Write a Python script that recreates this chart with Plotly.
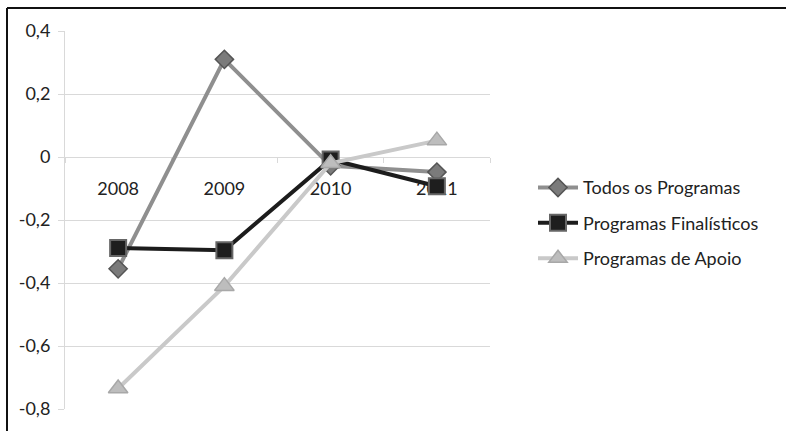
import plotly.graph_objects as go

# Data
years = ["2008", "2009", "2010", "2011"]
todos = [-0.355, 0.31, -0.028, -0.048]
finalisticos = [-0.289, -0.296, -0.008, -0.093]
apoio = [-0.735, -0.41, -0.02, 0.052]

y_tick_vals = [0.4, 0.2, 0, -0.2, -0.4, -0.6, -0.8]
y_tick_text = ["0,4", "0,2", "0", "-0,2", "-0,4", "-0,6", "-0,8"]

W, H = 786, 431
ML, MR, MT, MB = 65, 296, 31, 20
PW, PH = W - ML - MR, H - MT - MB
Y_MIN, Y_MAX = -0.8, 0.4

FONT = "Lato, Calibri, Carlito, sans-serif"
GRID = "#d9d9d9"
FS = 18


def px_x(px):
    return (px - ML) / PW


def px_y(py):
    return (H - MB - py) / PH


series = [
    ("Todos os Programas", todos, "#8f8f8f", 4,
     dict(symbol="diamond", size=14, color="#7b7b7b", line=dict(color="#555555", width=1.5))),
    ("Programas Finalísticos", finalisticos, "#1c1c1c", 4,
     dict(symbol="square", size=16, color="#1e1e1e", line=dict(color="#666666", width=2))),
    ("Programas de Apoio", apoio, "#c9c9c9", 4,
     dict(symbol="triangle-up", size=17, color="#bdbdbd", line=dict(color="#a8a8a8", width=1.5))),
]

fig = go.Figure()
for i, (name, vals, lc, lw, mk) in enumerate(series):
    fig.add_trace(go.Scatter(
        x=years, y=vals, name=name, mode="lines+markers",
        line=dict(color=lc, width=lw), marker=mk,
        legendgroup=f"g{i}",
    ))

zero_pos = (0 - Y_MIN) / (Y_MAX - Y_MIN)

fig.update_layout(
    width=W, height=H,
    margin=dict(l=ML, r=MR, t=MT, b=MB, pad=0),
    paper_bgcolor="white", plot_bgcolor="white",
    font=dict(family=FONT, size=FS, color="#222222"),
    showlegend=True,
    legend=dict(
        x=px_x(533), y=px_y(170), xanchor="left", yanchor="top",
        font=dict(family=FONT, size=FS, color="#222222"),
        tracegroupgap=9, itemwidth=40,
        bgcolor="rgba(0,0,0,0)",
    ),
    xaxis=dict(
        type="category", range=[-0.5, 3.5],
        anchor="free", position=zero_pos,
        showline=True, linecolor=GRID, linewidth=1,
        ticks="outside", ticklen=5, tickcolor=GRID, tickson="boundaries",
        showgrid=False, zeroline=False,
        tickfont=dict(family=FONT, size=FS, color="#222222"),
        ticklabelstandoff=15,
        layer="below traces",
        fixedrange=True,
    ),
    yaxis=dict(
        range=[Y_MIN, Y_MAX],
        tickvals=y_tick_vals, ticktext=y_tick_text,
        showline=True, linecolor=GRID, linewidth=1,
        ticks="outside", ticklen=6, tickcolor=GRID,
        showgrid=True, gridcolor=GRID, gridwidth=1,
        zeroline=False,
        tickfont=dict(family=FONT, size=FS, color="#222222"),
        ticklabelstandoff=4,
        layer="below traces",
        fixedrange=True,
    ),
    shapes=[
        dict(type="line", xref="paper", yref="paper",
             x0=px_x(7), x1=px_x(7), y0=px_y(H + 2), y1=px_y(8),
             line=dict(color="#111111", width=2)),
        dict(type="line", xref="paper", yref="paper",
             x0=px_x(7), x1=px_x(W + 2), y0=px_y(8), y1=px_y(8),
             line=dict(color="#111111", width=2)),
    ],
)

fig.write_html("out.html")
